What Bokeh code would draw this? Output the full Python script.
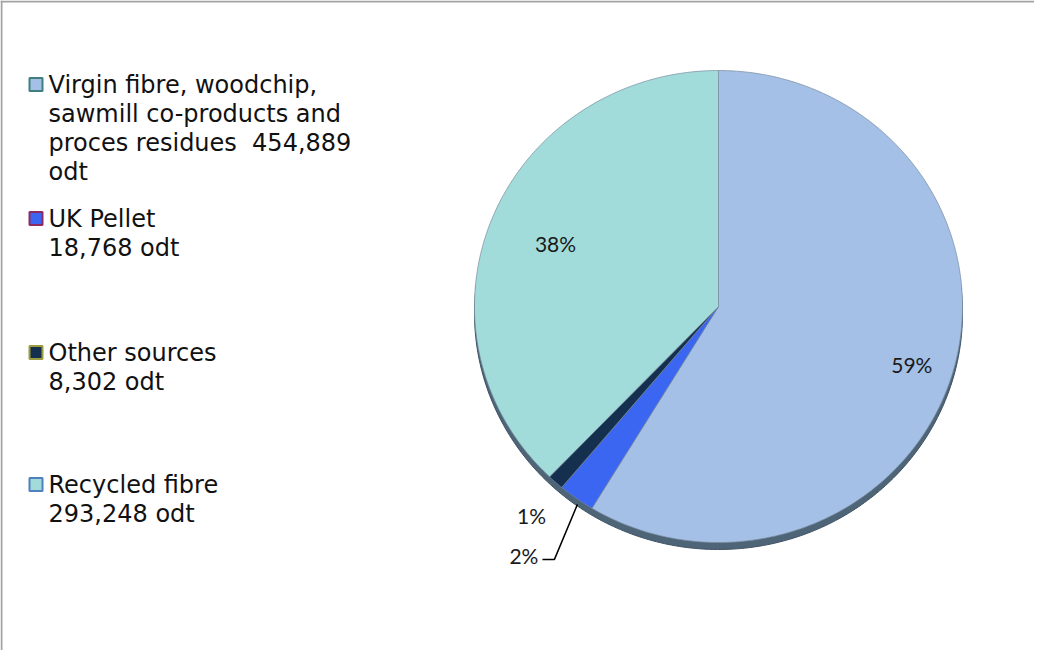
import numpy as np
from bokeh.plotting import figure
from bokeh.models import ColumnDataSource, Range1d, Span
from bokeh.core.properties import value
from bokeh.embed import file_html
from bokeh.resources import INLINE

# ---- data ----
categories = ["Virgin fibre, woodchip, sawmill co-products and proces residues",
              "UK Pellet", "Other sources", "Recycled fibre"]
values = [454889, 18768, 8302, 293248]
slice_colors = ["#A4C0E6", "#3B66F2", "#15304F", "#A2DCDA"]
swatch_borders = ["#3F7F80", "#8E2A5E", "#9C9C3E", "#4F7FBF"]
legend_lines = [
    ["Virgin fibre, woodchip,", "sawmill co-products and",
     "proces residues\u00a0\u00a0{:,}", "odt"],
    ["UK Pellet", "{:,} odt"],
    ["Other sources", "{:,} odt"],
    ["Recycled fibre", "{:,} odt"],
]
legend_top = [92, 226, 360, 492]

# ---- layout ----
W, H = 1034, 650
cx, cy, rx, ry = 726, 314, 244, 236
depth = 7

p = figure(width=W, height=H, output_backend="svg", toolbar_location=None,
           x_range=Range1d(8, 8 + W), y_range=Range1d(8 + H, 8),
           min_border=0, outline_line_color=None)
p.axis.visible = False
p.grid.visible = False
p.background_fill_color = "white"
p.border_fill_color = "white"

p.add_layout(Span(location=9, dimension="height", line_color="#A3A3A3", line_width=2))
p.add_layout(Span(location=9, dimension="width", line_color="#A3A3A3", line_width=2))

vals = np.array(values, dtype=float)
frac = vals / vals.sum()
ends = np.pi / 2 - 2 * np.pi * np.cumsum(frac)
starts = np.concatenate([[np.pi / 2], ends[:-1]])

def ell(t, r=1.0, dy=0.0):
    return cx + rx * r * np.cos(t), cy - ry * r * np.sin(t) + dy

# 3D side (shadow band)
t = np.linspace(0, 2 * np.pi, 400)
sx, sy = ell(t, dy=depth)
p.patch(sx, sy, fill_color="#4E6577", line_color="#3F5366", line_width=1)

xs, ys = [], []
for a0, a1 in zip(starts, ends):
    tt = np.linspace(a0, a1, 200)
    ex, ey = ell(tt)
    xs.append(np.concatenate([[cx], ex, [cx]]))
    ys.append(np.concatenate([[cy], ey, [cy]]))
src = ColumnDataSource(dict(xs=xs, ys=ys, color=slice_colors))
p.patches("xs", "ys", source=src, fill_color="color", line_color="#7A8CA0",
          line_width=1, line_alpha=0.7)

# percentage labels
pct = [f"{round(f * 100):.0f}%" for f in frac]
mid = (starts + ends) / 2
lab_font = value("Lato")
lab_kw = dict(text_align="center", text_baseline="middle", text_font=lab_font,
              text_font_size="21px", text_color="#1a1a1a")

lx, ly = ell(mid[0] - 0.03, r=0.83)
p.text([lx], [ly], text=[pct[0]], **lab_kw)
lx, ly = ell(mid[3], r=0.72)
p.text([lx], [ly], text=[pct[3]], **lab_kw)

# 1% (other sources)
ox, oy = ell(mid[2], r=1.0)
p.text([ox - 24], [oy + 33], text=[pct[2]], **lab_kw)
# 2% (UK pellet) with leader line
ux, uy = ell(mid[1], r=1.0)
p.line([ux + 1, ux - 22, ux - 34], [uy + 6, uy + 61, uy + 61], line_color="black", line_width=1.5)
p.text([ux - 38], [uy + 57], text=[pct[1]], text_align="right", text_baseline="middle",
       text_font=lab_font, text_font_size="21px", text_color="#1a1a1a")

# legend
leg_font = value("DejaVu Sans")
line_h = 29
for i, lines in enumerate(legend_lines):
    y0 = legend_top[i]
    p.rect([43.5], [y0], width=13, height=13, fill_color=slice_colors[i],
           line_color=swatch_borders[i], line_width=2)
    txt = [ln.format(values[i]) if "{" in ln else ln for ln in lines]
    p.text([56] * len(txt), [y0 + k * line_h for k in range(len(txt))], text=txt,
           text_align="left", text_baseline="middle", text_font=leg_font,
           text_font_size="24px", text_color="#111111")

open("out.html", "w").write(file_html(p, INLINE))
